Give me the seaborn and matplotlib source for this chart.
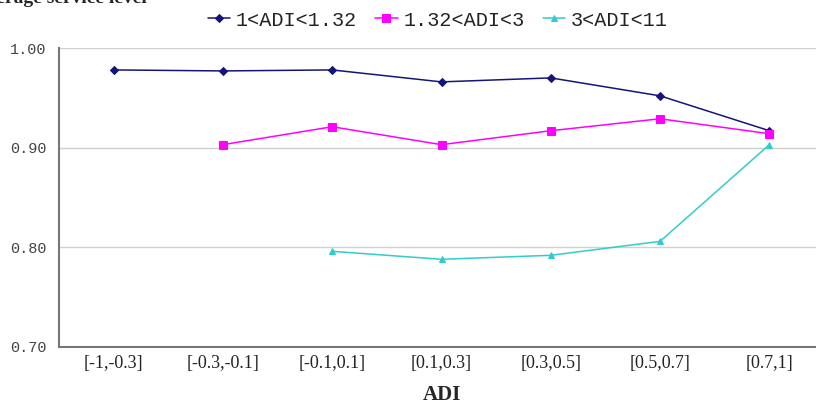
import numpy as np
import pandas as pd
import matplotlib
matplotlib.use("Agg")
import matplotlib.pyplot as plt
import seaborn as sns

# categories on the x axis
categories = ["[-1,-0.3]", "[-0.3,-0.1]", "[-0.1,0.1]", "[0.1,0.3]",
              "[0.3,0.5]", "[0.5,0.7]", "[0.7,1]"]

# average service level per ADI group
low_adi = [0.978, 0.977, 0.978, 0.966, 0.970, 0.952, 0.917]
mid_adi = [np.nan, 0.903, 0.921, 0.903, 0.917, 0.929, 0.914]
high_adi = [np.nan, np.nan, 0.796, 0.788, 0.792, 0.806, 0.903]

series_names = ["1<ADI<1.32", "1.32<ADI<3", "3<ADI<11"]
yticks = [0.70, 0.80, 0.90, 1.00]

sns.set_style("white")

df = pd.DataFrame({
    "pos": list(range(len(categories))) * 3,
    "value": low_adi + mid_adi + high_adi,
    "group": [s for s in series_names for _ in categories],
})

fig = plt.figure(figsize=(8.16, 4.05), dpi=100)
ax = fig.add_axes([59 / 816, (405 - 347) / 405, 765 / 816, 299 / 405])

colors = ["#14147a", "#ff00ff", "#33cccc"]
markers = ["D", "s", "^"]
sizes = [4, 6, 5]
for name, c, m, s in zip(series_names, colors, markers, sizes):
    sub = df[df["group"] == name].dropna()
    sns.lineplot(data=sub, x="pos", y="value", color=c, marker=m,
                 markersize=s, markeredgecolor=c, linewidth=1.1,
                 label=name, ax=ax)

ax.set_xlim(-0.5, 6.5)
ax.set_ylim(0.70, 1.00)
ax.set_yticks(yticks)
ax.set_yticklabels(["%.2f" % v for v in yticks], family="Liberation Mono",
                   fontsize=11, color="#444444")
for v in yticks[1:]:
    ax.axhline(v, color="#d0d0d0", linewidth=1, zorder=0)

# boundary ticks without labels, labels at category centres
ax.set_xticks(np.arange(0.5, 6, 1))
ax.set_xticklabels([])
ax.set_xticks(np.arange(len(categories)), minor=True)
ax.set_xticklabels(categories, minor=True, family="Liberation Serif",
                   fontsize=13, color="#222222")
ax.tick_params(axis="x", which="major", direction="in", length=5,
               color="#666666", width=1)
ax.tick_params(axis="x", which="minor", length=0, pad=6)
ax.tick_params(axis="y", length=5, direction="out", color="#666666", pad=4)

for side in ["top", "right"]:
    ax.spines[side].set_visible(False)
for side in ["left", "bottom"]:
    ax.spines[side].set_color("#777777")
    ax.spines[side].set_linewidth(1.5)

ax.set_xlabel("ADI", family="Liberation Serif", fontweight="bold",
              fontsize=15, labelpad=9)
ax.set_ylabel("")

leg = ax.legend(loc="center", bbox_to_anchor=((438 - 59) / 765, (347 - 20) / 299),
                ncol=3, frameon=False, handlelength=1.1, handletextpad=0.3,
                columnspacing=0.9, borderaxespad=0,
                prop={"family": "Liberation Mono", "size": 14.5})
for t in leg.get_texts():
    t.set_color("#222222")

fig.text(-26 / 816, 1 - 3 / 405, "Average service level", family="Liberation Serif",
         fontweight="bold", fontsize=14, va="baseline", ha="left")

fig.savefig("out.png", dpi=100)
